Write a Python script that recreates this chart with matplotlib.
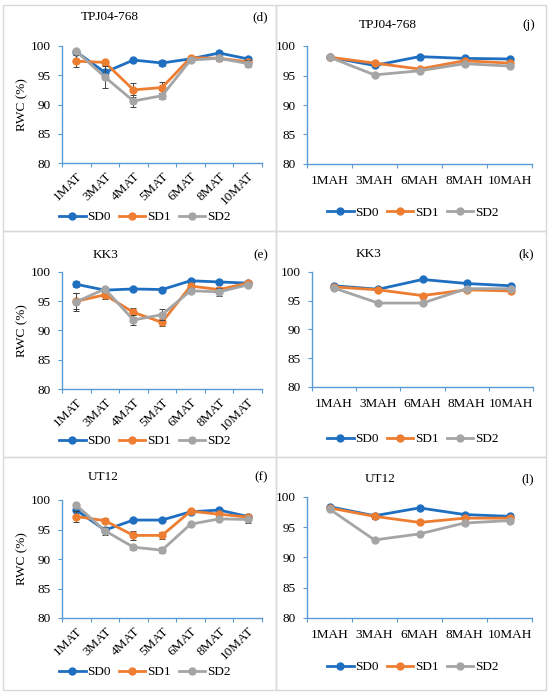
import matplotlib
matplotlib.use("Agg")
import matplotlib.pyplot as plt
from matplotlib.patches import Rectangle

plt.rcParams['font.family'] = ['Liberation Serif', 'DejaVu Serif']

mat_cats = ["1MAT", "3MAT", "4MAT", "5MAT", "6MAT", "8MAT", "10MAT"]
mah_cats = ["1MAH", "3MAH", "6MAH", "8MAH", "10MAH"]
series_names = ["SD0", "SD1", "SD2"]

# Panel (d) TPJ04-768, MAT
d_sd0 = [99.0, 95.5, 97.6, 97.1, 97.8, 98.8, 97.8]
d_sd1 = [97.4, 97.2, 92.5, 92.9, 98.0, 97.9, 97.3]
d_sd2 = [99.1, 94.7, 90.6, 91.5, 97.6, 97.9, 97.0]
d_err0 = [0.3, 0.4, 0.3, 0.5, 0.3, 0.3, 0.3]
d_err1 = [1.0, 0.4, 1.2, 0.9, 0.3, 0.3, 0.4]
d_err2 = [0.4, 1.8, 1.0, 0.5, 0.4, 0.4, 0.6]

# Panel (j) TPJ04-768, MAH
j_sd0 = [98.1, 96.7, 98.2, 97.9, 97.8]
j_sd1 = [98.1, 97.1, 96.1, 97.5, 97.1]
j_sd2 = [98.1, 95.1, 95.8, 97.0, 96.6]

# Panel (e) KK3, MAT
e_sd0 = [97.9, 96.9, 97.1, 97.0, 98.5, 98.3, 98.1]
e_sd1 = [95.0, 96.1, 93.1, 91.4, 97.6, 97.0, 98.1]
e_sd2 = [94.9, 97.1, 91.8, 92.7, 96.8, 96.6, 97.8]
e_err0 = [0.5, 0.2, 0.2, 0.2, 0.3, 0.3, 0.2]
e_err1 = [1.4, 0.7, 0.8, 0.6, 0.4, 0.5, 0.3]
e_err2 = [1.5, 0.4, 0.8, 0.9, 0.4, 0.7, 0.3]

# Panel (k) KK3, MAH
k_sd0 = [97.6, 97.0, 98.7, 98.0, 97.6]
k_sd1 = [97.4, 96.9, 95.9, 96.9, 96.7]
k_sd2 = [97.2, 94.6, 94.6, 97.1, 97.1]

# Panel (f) UT12, MAT
f_sd0 = [98.3, 94.9, 96.6, 96.6, 98.0, 98.3, 97.2]
f_sd1 = [97.2, 96.5, 94.0, 94.0, 98.1, 97.6, 97.1]
f_sd2 = [99.1, 94.8, 92.0, 91.5, 95.9, 96.8, 96.7]
f_err0 = [0.3, 0.3, 0.2, 0.2, 0.2, 0.3, 0.3]
f_err1 = [1.0, 0.4, 0.7, 0.6, 0.3, 0.3, 0.5]
f_err2 = [0.3, 0.7, 0.4, 0.5, 0.2, 0.3, 0.6]

# Panel (l) UT12, MAH
l_sd0 = [98.4, 96.9, 98.2, 97.1, 96.8]
l_sd1 = [98.2, 96.8, 95.8, 96.5, 96.5]
l_sd2 = [98.0, 92.9, 93.9, 95.7, 96.1]
l_err1 = [0.2, 0.5, 0.2, 0.2, 0.2]

colors = ["#1F6FC1", "#ED7D31", "#A5A5A5"]
axis_color = "#5B9BD5"

W, H = 550, 693
fig = plt.figure(figsize=(W / 100, H / 100), dpi=100)


def px_rect(x0, y0, x1, y1):
    return [x0 / W, 1 - y1 / H, (x1 - x0) / W, (y1 - y0) / H]


# panel frames
for (x0, y0, x1, y1) in [(3, 5, 276, 231), (276, 5, 546, 231),
                         (3, 231, 276, 457), (276, 231, 546, 457),
                         (3, 457, 276, 690), (276, 457, 546, 690)]:
    fig.patches.append(Rectangle((x0 / W, 1 - y1 / H), (x1 - x0) / W, (y1 - y0) / H,
                                 transform=fig.transFigure, fill=False,
                                 edgecolor="#D9D9D9", lw=1.0))

panels = [
    dict(rect=(62, 46, 262, 163), cats=mat_cats, data=[d_sd0, d_sd1, d_sd2],
         errs=[d_err0, d_err1, d_err2], title="TPJ04-768", tag="(d)",
         title_xy=(110, 17), tag_x=268, leg_xy=(145, 217), ylab=True, rot=True),
    dict(rect=(307, 46, 532, 164), cats=mah_cats, data=[j_sd0, j_sd1, j_sd2],
         errs=None, title="TPJ04-768", tag="(j)",
         title_xy=(388, 25), tag_x=535, leg_xy=(413, 213), ylab=False, rot=False),
    dict(rect=(62, 272, 262, 389), cats=mat_cats, data=[e_sd0, e_sd1, e_sd2],
         errs=[e_err0, e_err1, e_err2], title="KK3", tag="(e)",
         title_xy=(105, 255), tag_x=268, leg_xy=(145, 441), ylab=True, rot=True),
    dict(rect=(312, 272, 533, 387), cats=mah_cats, data=[k_sd0, k_sd1, k_sd2],
         errs=None, title="KK3", tag="(k)",
         title_xy=(368, 254), tag_x=534, leg_xy=(413, 439), ylab=False, rot=False),
    dict(rect=(62, 500, 262, 618), cats=mat_cats, data=[f_sd0, f_sd1, f_sd2],
         errs=[f_err0, f_err1, f_err2], title="UT12", tag="(f)",
         title_xy=(103, 477), tag_x=268, leg_xy=(145, 672), ylab=True, rot=True),
    dict(rect=(307, 497, 532, 618), cats=mah_cats, data=[l_sd0, l_sd1, l_sd2],
         errs=[None, l_err1, None], title="UT12", tag="(l)",
         title_xy=(380, 479), tag_x=534, leg_xy=(413, 667), ylab=False, rot=False),
]

fs = 9.5
for p in panels:
    ax = fig.add_axes(px_rect(*p["rect"]))
    x = list(range(len(p["cats"])))
    handles = []
    for i, (vals, name) in enumerate(zip(p["data"], series_names)):
        err = None
        if p["errs"] is not None and p["errs"][i] is not None:
            err = p["errs"][i]
        if err is not None:
            ax.errorbar(x, vals, yerr=err, fmt="none", ecolor="#404040",
                        elinewidth=0.7, capsize=2, capthick=0.7, zorder=3 + i)
        h, = ax.plot(x, vals, color=colors[i], lw=2.0, marker="o", ms=5,
                     zorder=4 + i, label=name)
        handles.append(h)
    ax.set_xlim(-0.5, len(p["cats"]) - 0.5)
    ax.set_ylim(80, 100)
    ax.set_yticks([80, 85, 90, 95, 100])
    ax.set_xticks(x)
    if p["rot"]:
        ax.set_xticklabels(p["cats"], rotation=45, ha="right", rotation_mode="anchor",
                           fontsize=fs)
        ax.tick_params(axis="x", length=0, pad=5)
    else:
        ax.set_xticklabels(p["cats"], fontsize=fs)
        ax.tick_params(axis="x", length=0, pad=8)
    ax.set_xticks([k + 0.5 for k in range(-1, len(p["cats"]))], minor=True)
    ax.tick_params(axis="x", which="minor", length=3, color=axis_color, width=0.8)
    ax.tick_params(axis="y", labelsize=fs, length=3, color=axis_color, width=0.8, pad=5)
    for s in ["top", "right"]:
        ax.spines[s].set_visible(False)
    for s in ["left", "bottom"]:
        ax.spines[s].set_color(axis_color)
        ax.spines[s].set_linewidth(1.0)
    ax.set_facecolor("none")
    if p["ylab"]:
        ax.set_ylabel("RWC (%)", fontsize=fs, labelpad=2)
    tx, ty = p["title_xy"]
    fig.text(tx / W, 1 - ty / H, p["title"], fontsize=fs, ha="center", va="center")
    fig.text(p["tag_x"] / W, 1 - ty / H, p["tag"], fontsize=fs, ha="right", va="center")
    lx, ly = p["leg_xy"]
    fig.legend(handles=handles, loc="center", bbox_to_anchor=(lx / W, 1 - ly / H),
               ncol=3, frameon=False, fontsize=fs, handlelength=2.0,
               handletextpad=0.15, columnspacing=0.6, borderpad=0)

fig.savefig("out.png", dpi=100, facecolor="white")
